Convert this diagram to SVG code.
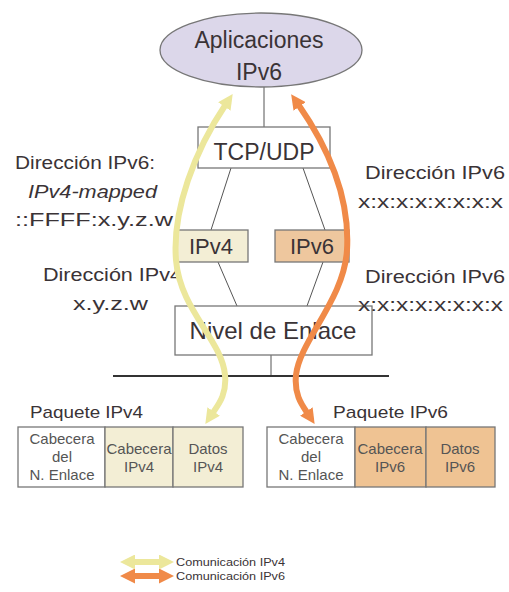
<svg xmlns="http://www.w3.org/2000/svg" width="509" height="592" viewBox="0 0 509 592">
<style>
text{font-family:"Liberation Sans",Arial,sans-serif;fill:#3a3336}
.box{stroke:#777;stroke-width:1.3}
.ln{stroke:#555;stroke-width:1;fill:none}
.lbl{font-size:18px}
.cell{font-size:15px;fill:#555;text-anchor:middle}
.leg{font-size:11px}
.y{stroke:#ece79b;stroke-width:6;fill:none}
.o{stroke:#f08a48;stroke-width:6;fill:none}
</style>
<defs>
<marker id="hy" viewBox="0 0 10 10" refX="2" refY="5" markerUnits="userSpaceOnUse" markerWidth="15" markerHeight="15" orient="auto-start-reverse"><path d="M0,0 L10,5 L0,10 z" fill="#ece79b"/></marker>
<marker id="ho" viewBox="0 0 10 10" refX="2" refY="5" markerUnits="userSpaceOnUse" markerWidth="15" markerHeight="15" orient="auto-start-reverse"><path d="M0,0 L10,5 L0,10 z" fill="#f08a48"/></marker>
</defs>
<rect width="509" height="592" fill="#fff"/>

<g id="connectors">
<line class="ln" x1="264" y1="87" x2="264" y2="127"/>
<line class="ln" x1="231" y1="168" x2="211" y2="230"/>
<line class="ln" x1="303" y1="168" x2="325" y2="230"/>
<line class="ln" x1="218" y1="262" x2="237" y2="306"/>
<line class="ln" x1="323" y1="262" x2="307" y2="306"/>
<line class="ln" x1="271" y1="355" x2="271" y2="376"/>
</g>

<g id="app">
<ellipse cx="261" cy="50" rx="101" ry="37" fill="#dcd7ea" stroke="#777" stroke-width="1.3"/>
<text x="259" y="48" font-size="23" text-anchor="middle">Aplicaciones</text>
<text x="259" y="80" font-size="23" text-anchor="middle">IPv6</text>
</g>

<g id="tcpudp">
<rect class="box" x="198" y="127" width="132" height="41" fill="#fff"/>
<text x="264" y="160" font-size="23" text-anchor="middle">TCP/UDP</text>
</g>

<g id="ipv4">
<rect class="box" x="175" y="230" width="73" height="32" fill="#f3eed5"/>
<text x="211" y="254" font-size="22" text-anchor="middle">IPv4</text>
</g>

<g id="ipv6">
<rect class="box" x="275" y="230" width="74" height="32" fill="#eec79e"/>
<text x="312" y="254" font-size="22" text-anchor="middle">IPv6</text>
</g>

<g id="enlace">
<rect class="box" x="175" y="306" width="197" height="49" fill="#fff"/>
<text x="273" y="339" font-size="24" text-anchor="middle">Nivel de Enlace</text>
</g>

<g id="bus">
<line x1="113" y1="376" x2="389" y2="376" stroke="#333" stroke-width="2"/>
</g>

<g id="labels">
<text class="lbl" x="15" y="169" textLength="140" lengthAdjust="spacingAndGlyphs">Dirección IPv6:</text>
<text class="lbl" x="28" y="198" font-style="italic" textLength="129" lengthAdjust="spacingAndGlyphs">IPv4-mapped</text>
<text class="lbl" x="15" y="226" textLength="158" lengthAdjust="spacingAndGlyphs">::FFFF:x.y.z.w</text>
<text class="lbl" x="43" y="281" textLength="139" lengthAdjust="spacingAndGlyphs">Dirección IPv4</text>
<text class="lbl" x="73" y="310" textLength="75" lengthAdjust="spacingAndGlyphs">x.y.z.w</text>
<text class="lbl" x="365" y="179" textLength="140" lengthAdjust="spacingAndGlyphs">Dirección IPv6</text>
<text class="lbl" x="358" y="208" textLength="145" lengthAdjust="spacingAndGlyphs">x:x:x:x:x:x:x:x</text>
<text class="lbl" x="365" y="283" textLength="140" lengthAdjust="spacingAndGlyphs">Dirección IPv6</text>
<text class="lbl" x="358" y="311" textLength="145" lengthAdjust="spacingAndGlyphs">x:x:x:x:x:x:x:x</text>
</g>

<g id="paquete4">
<text x="30" y="418" font-size="17" textLength="113" lengthAdjust="spacingAndGlyphs">Paquete IPv4</text>
<rect class="box" x="18" y="427" width="87" height="60" fill="#fff"/>
<rect class="box" x="105" y="427" width="68" height="60" fill="#f3eed5"/>
<rect class="box" x="173" y="427" width="70" height="60" fill="#f3eed5"/>
<text class="cell" x="62" y="444">Cabecera</text>
<text class="cell" x="62" y="462">del</text>
<text class="cell" x="62" y="480">N. Enlace</text>
<text class="cell" x="139" y="454">Cabecera</text>
<text class="cell" x="139" y="472">IPv4</text>
<text class="cell" x="208" y="454">Datos</text>
<text class="cell" x="208" y="472">IPv4</text>
</g>

<g id="paquete6">
<text x="333" y="418" font-size="17" textLength="115" lengthAdjust="spacingAndGlyphs">Paquete IPv6</text>
<rect class="box" x="267" y="427" width="88" height="60" fill="#fff"/>
<rect class="box" x="355" y="427" width="71" height="60" fill="#efc393"/>
<rect class="box" x="426" y="427" width="69" height="60" fill="#efc393"/>
<text class="cell" x="311" y="444">Cabecera</text>
<text class="cell" x="311" y="462">del</text>
<text class="cell" x="311" y="480">N. Enlace</text>
<text class="cell" x="390" y="454">Cabecera</text>
<text class="cell" x="390" y="472">IPv6</text>
<text class="cell" x="460" y="454">Datos</text>
<text class="cell" x="460" y="472">IPv6</text>
</g>

<g id="flows">
<path class="y" d="M226,104 C195,150 172,210 176,260 C180,310 222,340 225,375 C227,395 218,405 212,414" marker-start="url(#hy)" marker-end="url(#hy)"/>
<path class="o" d="M298,104 C330,150 350,200 347,250 C344,300 300,340 296,375 C294,395 302,405 308,414" marker-start="url(#ho)" marker-end="url(#ho)"/>
</g>

<g id="legend">
<line class="y" x1="132" y1="562" x2="162" y2="562" stroke-width="5" marker-start="url(#hy)" marker-end="url(#hy)"/>
<text class="leg" x="176" y="566" textLength="109" lengthAdjust="spacingAndGlyphs">Comunicación IPv4</text>
<line class="o" x1="132" y1="576" x2="162" y2="576" stroke-width="5" marker-start="url(#ho)" marker-end="url(#ho)"/>
<text class="leg" x="176" y="580" textLength="109" lengthAdjust="spacingAndGlyphs">Comunicación IPv6</text>
</g>
</svg>
